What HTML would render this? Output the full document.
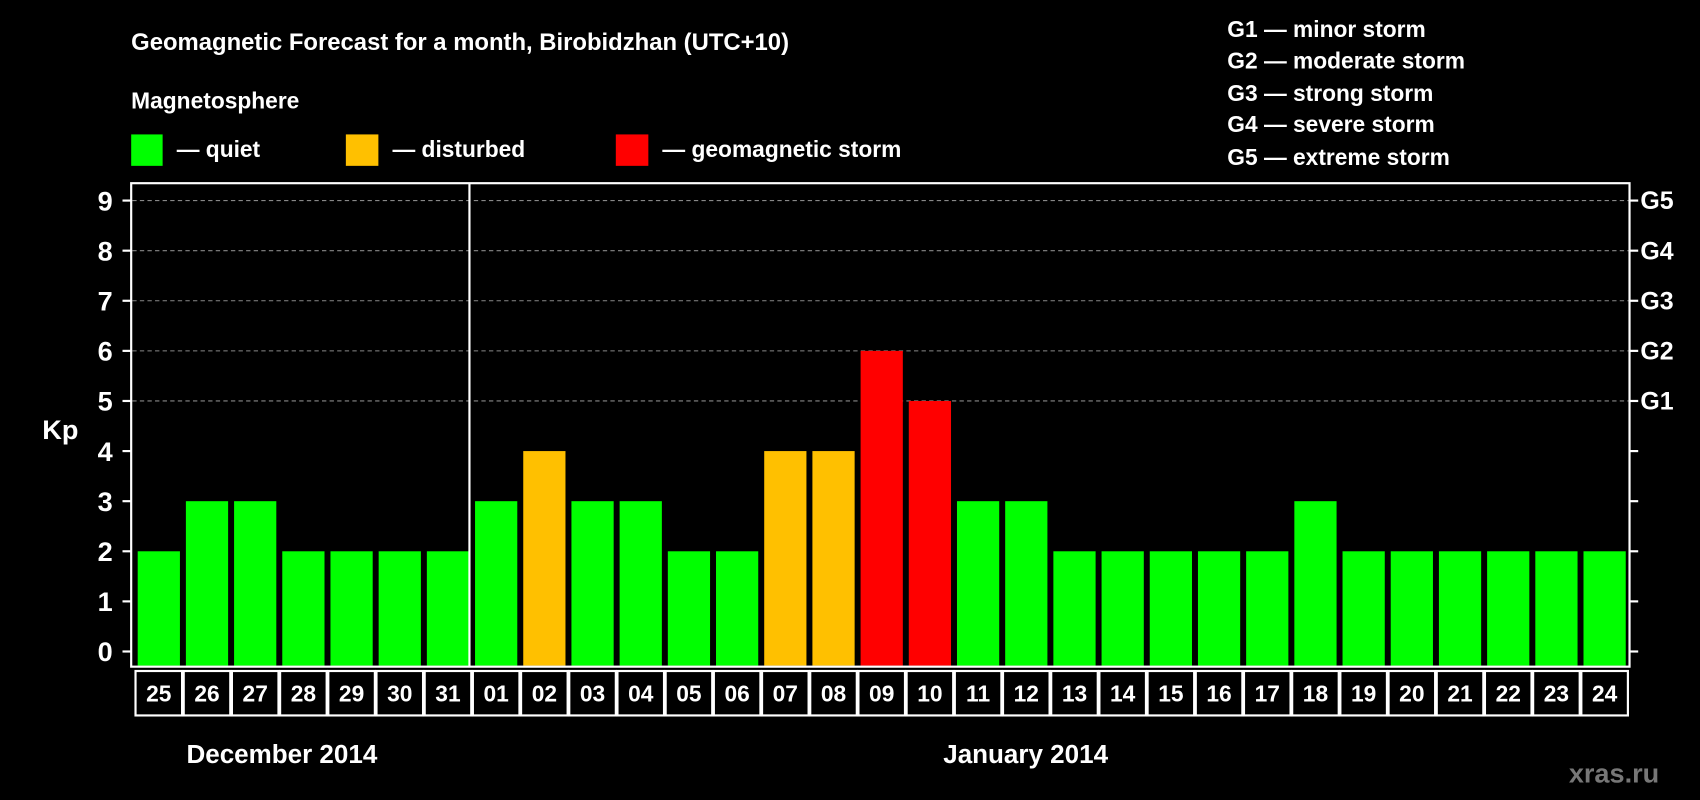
<!DOCTYPE html>
<html><head><meta charset="utf-8"><style>
html,body{margin:0;padding:0;background:#000;width:1700px;height:800px;overflow:hidden}
svg{display:block;font-family:"Liberation Sans",sans-serif;font-weight:bold}
</style></head><body>
<svg id="chart" width="1700" height="800" viewBox="0 0 1568 738" preserveAspectRatio="none" xmlns="http://www.w3.org/2000/svg">
<rect x="0" y="0" width="1568" height="738" fill="#000"/>
<text x="121" y="46" fill="#fff" font-size="22">Geomagnetic Forecast for a month, Birobidzhan (UTC+10)</text>
<text x="121" y="100" fill="#fff" font-size="21">Magnetosphere</text>
<g><rect x="121" y="124" width="29" height="29" fill="#00ff00"/><text x="163" y="145" fill="#fff" font-size="21">— quiet</text></g>
<g><rect x="319" y="124" width="30" height="29" fill="#ffc000"/><text x="362" y="145" fill="#fff" font-size="21">— disturbed</text></g>
<g><rect x="568" y="124" width="30" height="29" fill="#ff0000"/><text x="611" y="145" fill="#fff" font-size="21">— geomagnetic storm</text></g>
<g fill="#fff" font-size="21">
<text x="1132" y="34">G1 — minor storm</text>
<text x="1132" y="63">G2 — moderate storm</text>
<text x="1132" y="93">G3 — strong storm</text>
<text x="1132" y="122">G4 — severe storm</text>
<text x="1132" y="152">G5 — extreme storm</text>
</g>
<g id="grid"></g>
<g id="bars"></g>
<g id="axes"></g>
<rect x="121" y="169" width="1382" height="446" fill="none" stroke="#fff" stroke-width="2"/>
<line x1="433" y1="169" x2="433" y2="615" stroke="#fff" stroke-width="2"/>
<text x="39" y="405" fill="#fff" font-size="25">Kp</text>
<text x="172" y="704" fill="#fff" font-size="24">December 2014</text>
<text x="870" y="704" fill="#fff" font-size="24">January 2014</text>
<text x="1447" y="722" fill="#777" font-size="25">xras.ru</text>
</svg>
<script>
const days = ["25","26","27","28","29","30","31","01","02","03","04","05","06","07","08","09","10","11","12","13","14","15","16","17","18","19","20","21","22","23","24"];
const kpValues = [2,3,3,2,2,2,2,3,4,3,3,2,2,4,4,6,5,3,3,2,2,2,2,2,3,2,2,2,2,2,2];
const yTicks = [0,1,2,3,4,5,6,7,8,9];
const gLabels = ["G1","G2","G3","G4","G5"];
const gLevels = [5,6,7,8,9];

const NS="http://www.w3.org/2000/svg";
const x0=122, slot=(1500-122)/days.length;
const yS=v=>601-v*46.22;
const xS=i=>x0+i*slot;
function mk(t,a,p){const e=document.createElementNS(NS,t);for(const k in a)e.setAttribute(k,a[k]);p.appendChild(e);return e;}
const grid=document.getElementById('grid'),bars=document.getElementById('bars'),axes=document.getElementById('axes');
gLevels.forEach((v,i)=>{
  const l=mk('line',{x1:122,x2:1502,y1:yS(v),y2:yS(v),stroke:'#888','stroke-dasharray':'4,3','stroke-width':1},grid);
  
  
  const t=mk('text',{x:1513,y:yS(v)+8,fill:'#fff','font-size':23},axes);
  t.textContent=gLabels[i];
  
  
});
yTicks.forEach(v=>{
  const l=mk('line',{x1:113,x2:121,y1:yS(v),y2:yS(v),stroke:'#fff','stroke-width':2},axes);
  
  
  const r=mk('line',{x1:1503,x2:1511,y1:yS(v),y2:yS(v),stroke:'#fff','stroke-width':2},axes);
  
  
  const t=mk('text',{x:104,y:yS(v)+9,fill:'#fff','font-size':25,'text-anchor':'end'},axes);
  t.textContent=v;
  
  
});
kpValues.forEach((v,i)=>{
  const c=v>=5?'#ff0000':(v>=4?'#ffc000':'#00ff00');
  const b=mk('rect',{x:xS(i)+5,y:yS(v),width:slot-5.5,height:615-yS(v)-1,fill:c},bars);
  
  
  const box=mk('rect',{x:xS(i)+3,y:619,width:slot-1.5,height:41,fill:'none',stroke:'#fff','stroke-width':2},axes);
  
  
  const t=mk('text',{x:xS(i)+3+(slot-1.5)/2,y:647,fill:'#fff','font-size':21,'text-anchor':'middle'},axes);
  t.textContent=days[i];
  
  
});
</script>
</body></html>
